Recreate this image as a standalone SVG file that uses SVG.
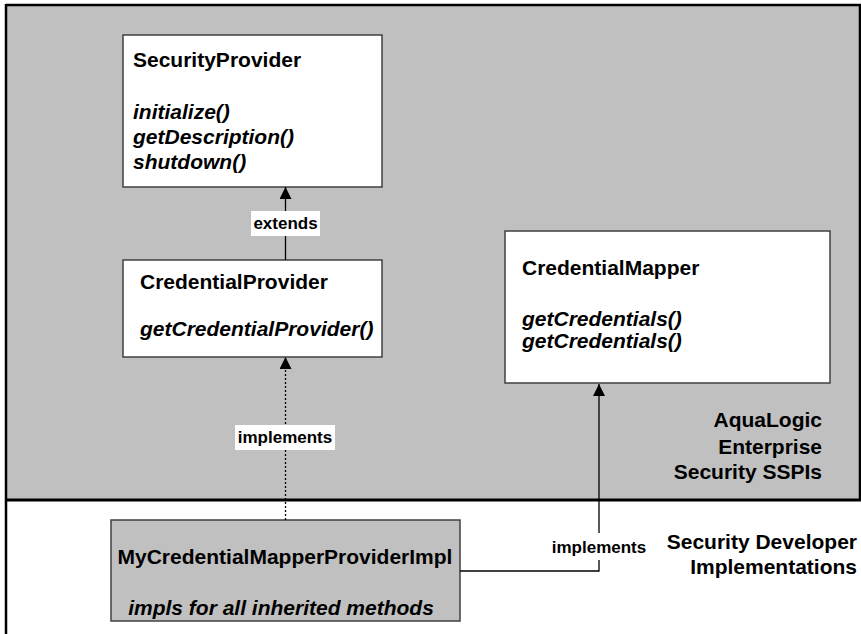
<svg xmlns="http://www.w3.org/2000/svg" width="861" height="634" viewBox="0 0 861 634">
<style>
text{font-family:"Liberation Sans",Arial,sans-serif;font-weight:bold;fill:#000}
.t{font-size:21px}
.m{font-size:21px;font-style:italic}
.lbl{font-size:17px}
.box{fill:#fff;stroke:#404040;stroke-width:1.5}
.gbox{fill:#C0C0C0;stroke:#404040;stroke-width:1.5}
.ln{stroke:#000;stroke-width:1.3;fill:none}
</style>
<defs>
<marker id="ah" markerWidth="12" markerHeight="12" viewBox="0 0 12 12" refX="12" refY="6" orient="auto" markerUnits="userSpaceOnUse">
<path d="M0,0 L12,6 L0,12 z" fill="#000"/>
</marker>
</defs>
<g id="frame">
<rect x="6" y="5" width="854" height="495" fill="#C0C0C0"/>
<path d="M6,5 L860,5 L860,500" fill="none" stroke="#000" stroke-width="2.5"/>
<line x1="6" y1="4" x2="6" y2="634" stroke="#000" stroke-width="2.5"/>
<line x1="6" y1="500" x2="861" y2="500" stroke="#000" stroke-width="3"/>
<text class="t" x="822" y="427" text-anchor="end">AquaLogic</text>
<text class="t" x="822" y="454" text-anchor="end">Enterprise</text>
<text class="t" x="822" y="479" text-anchor="end">Security SSPIs</text>
<text class="t" x="857" y="549" text-anchor="end">Security Developer</text>
<text class="t" x="857" y="574" text-anchor="end">Implementations</text>
</g>
<g id="SecurityProvider">
<rect class="box" x="123" y="35" width="259" height="152"/>
<text class="t" x="133" y="67">SecurityProvider</text>
<text class="m" x="133" y="119">initialize()</text>
<text class="m" x="133" y="144">getDescription()</text>
<text class="m" x="133" y="169">shutdown()</text>
</g>
<g id="CredentialProvider">
<rect class="box" x="123" y="260" width="259" height="97"/>
<text class="t" x="140" y="289">CredentialProvider</text>
<text class="m" x="140" y="336">getCredentialProvider()</text>
</g>
<g id="CredentialMapper">
<rect class="box" x="505" y="231" width="325" height="152"/>
<text class="t" x="522" y="275">CredentialMapper</text>
<text class="m" x="522" y="326">getCredentials()</text>
<text class="m" x="522" y="348">getCredentials()</text>
</g>
<g id="MyCredentialMapperProviderImpl">
<rect class="gbox" x="111" y="520" width="349" height="101"/>
<text class="t" x="285" y="564" text-anchor="middle">MyCredentialMapperProviderImpl</text>
<text class="m" x="281" y="615" text-anchor="middle">impls for all inherited methods</text>
</g>
<g id="connectors">
<line class="ln" x1="285.5" y1="260" x2="285.5" y2="187" marker-end="url(#ah)"/>
<rect x="251" y="211" width="69" height="25" fill="#fff"/>
<text class="lbl" x="285.5" y="229" text-anchor="middle">extends</text>
<line class="ln" x1="285.5" y1="520" x2="285.5" y2="357" stroke-dasharray="2,2" marker-end="url(#ah)"/>
<rect x="235" y="425" width="100" height="25" fill="#fff"/>
<text class="lbl" x="285" y="443" text-anchor="middle">implements</text>
<path class="ln" d="M460,571 L599,571 L599,560"/>
<line class="ln" x1="599" y1="533" x2="599" y2="384" marker-end="url(#ah)"/>
<text class="lbl" x="599" y="553" text-anchor="middle">implements</text>
</g>
</svg>
